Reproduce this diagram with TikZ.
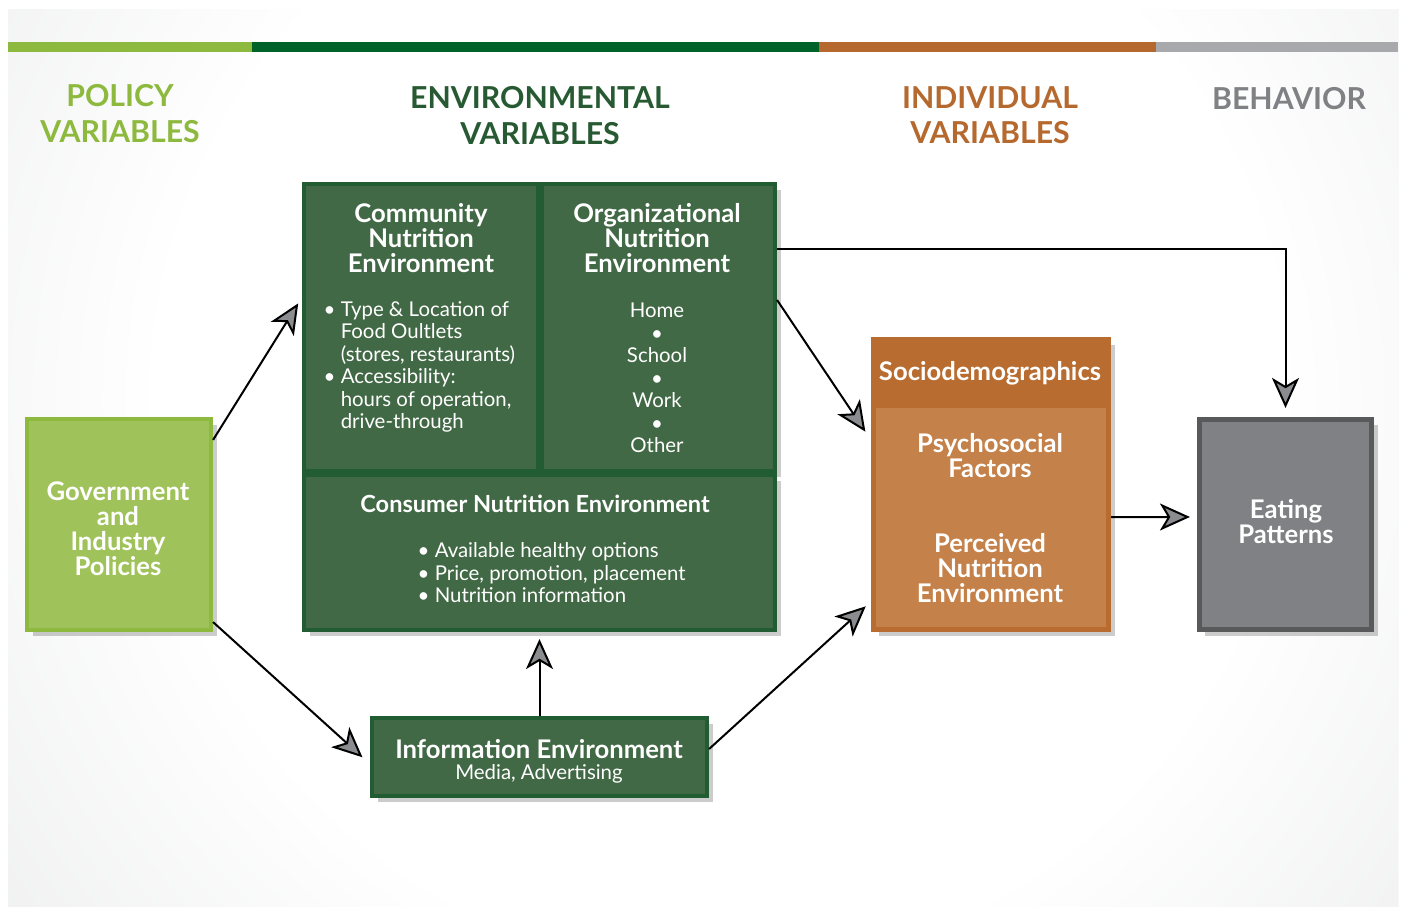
\documentclass[tikz,border=0pt]{standalone}
\usepackage{fontspec}
\setmainfont{Lato}
\usetikzlibrary{arrows.meta,shadows}

\definecolor{policygreen}{HTML}{8DB93F}
\definecolor{govfill}{HTML}{A0C25A}
\definecolor{envbar}{HTML}{006129}
\definecolor{envtext}{HTML}{275A32}
\definecolor{envfill}{HTML}{426946}
\definecolor{envline}{HTML}{225C32}
\definecolor{indbar}{HTML}{B5692F}
\definecolor{sociofill}{HTML}{B86C30}
\definecolor{psychfill}{HTML}{C48149}
\definecolor{behbar}{HTML}{A7A9AC}
\definecolor{behtext}{HTML}{808184}
\definecolor{eatline}{HTML}{58595B}
\definecolor{bggray}{HTML}{E4E5E6}
\definecolor{tipgray}{HTML}{8A8C8F}

\pgfdeclareradialshading{bgshade}{\pgfpoint{0bp}{0bp}}{color(0bp)=(white); color(14bp)=(white); color(29bp)=(bggray); color(50bp)=(bggray)}

\begin{document}
\begin{tikzpicture}[x=0.01cm,y=-0.01cm,
  heading/.style={font=\fontsize{8.6}{10}\selectfont\bfseries, align=center},
  boxtitle/.style={font=\fontsize{7.3}{7.1}\selectfont\bfseries, text=white, align=center, inner sep=0pt},
  boxtext/.style={font=\fontsize{5.8}{6.4}\selectfont, text=white, inner sep=0pt},
  shade/.style={drop shadow={shadow xshift=0.06cm, shadow yshift=-0.06cm, opacity=0.2, fill=black}},
  envbox/.style={draw=envline, fill=envfill, line width=0.04cm, inner sep=0pt},
  arr/.style={line width=0.02cm, shorten >=0.07cm, -{Stealth[length=0.3cm,width=0.27cm,inset=0.08cm,fill=tipgray]}}]
\useasboundingbox (0,0) rectangle (1403,907);
\fill[white] (0,0) rectangle (1403,907);
\begin{scope}
\clip (8,10) rectangle (1398,906);
\shade[shading=bgshade] (720,400) circle [radius=10cm];
\end{scope}

% column bars
\fill[policygreen] (8,42) rectangle (252,52);
\fill[envbar] (252,42) rectangle (819,52);
\fill[indbar] (819,42) rectangle (1156,52);
\fill[behbar] (1156,42) rectangle (1398,52);

\node (hpolicy) at (120,113.5) [heading, text=policygreen] {POLICY\\VARIABLES};
\node (henv) at (540,115.5) [heading, text=envtext] {ENVIRONMENTAL\\VARIABLES};
\node (hind) at (990,115.5) [heading, text=indbar] {INDIVIDUAL\\VARIABLES};
\node (hbeh) at (1289,99) [heading, text=behtext] {BEHAVIOR};

% policy
\node (gov) at (119,524.5) [shade, draw=policygreen, fill=govfill, line width=0.04cm,
  minimum width=1.84cm, minimum height=2.11cm] {};
\node (govtitle) at (118,528.5) [boxtitle] {Government\\and\\Industry\\Policies};

% environment
\node (commbox) at (421,327.5) [envbox, shade, minimum width=2.34cm, minimum height=2.87cm] {};
\node (orgbox) at (658.5,327.5) [envbox, shade, minimum width=2.33cm, minimum height=2.87cm] {};
\node (consbox) at (539.5,552.5) [envbox, shade, minimum width=4.71cm, minimum height=1.55cm] {};
\node (infobox) at (539.5,757) [envbox, shade, minimum width=3.35cm, minimum height=0.78cm] {};
\node (infotitle) at (539,749) [boxtitle] {Information Environment};
\node (infosub) at (539,774) [boxtext] {Media, Advertising};

\node (commtitle) at (421,238) [boxtitle] {Community\\Nutrition\\Environment};
\node (commlist) at (323,367) [boxtext, anchor=west, align=left]
  {\textbullet\ Type \& Location of\\\hphantom{\textbullet\ }Food Oultlets\\\hphantom{\textbullet\ }(stores, restaurants)\\
   \textbullet\ Accessibility:\\\hphantom{\textbullet\ }hours of operation,\\\hphantom{\textbullet\ }drive-through};
\node (orgtitle) at (657,238) [boxtitle] {Organizational\\Nutrition\\Environment};
\node (orglist) at (657,378) [boxtext, align=center]
  {Home\\\textbullet\\School\\\textbullet\\Work\\\textbullet\\Other};
\node (constitle) at (535,504) [boxtitle, font=\fontsize{6.7}{7.1}\selectfont\bfseries] {Consumer Nutrition Environment};
\node (conslist) at (417,573) [boxtext, anchor=west, align=left]
  {\textbullet\ Available healthy options\\\textbullet\ Price, promotion, placement\\\textbullet\ Nutrition information};

% individual
\node (socio) at (991,484.5) [shade, draw=sociofill, fill=sociofill, line width=0.04cm,
  minimum width=2.36cm, minimum height=2.91cm] {};
\node (psych) at (991,517.5) [fill=psychfill, minimum width=2.30cm, minimum height=2.19cm] {};
\node (sociotitle) at (990,373) [boxtitle] {Sociodemographics};
\node (psychtitle) at (990,455.5) [boxtitle] {Psychosocial\\Factors};
\node (perctitle) at (990,568) [boxtitle] {Perceived\\Nutrition\\Environment};

% behavior
\node (eating) at (1285.5,524.5) [shade, draw=eatline, fill=behtext, line width=0.05cm,
  minimum width=1.72cm, minimum height=2.10cm] {};
\node (eatingtitle) at (1286,521.5) [boxtitle] {Eating\\Patterns};

\draw [arr] ([yshift=-0.23cm]gov.north east) -- ([yshift=0.3cm]commbox.west);
\draw [arr, shorten >=0.1cm] ([yshift=0.1cm]gov.south east) -- ([yshift=-0.07cm]infobox.west);
\draw [arr] (infobox.north) -- (consbox.south);
\draw [arr] ([yshift=0.08cm]infobox.east) -- ([yshift=-1.17cm]socio.west);
\draw [arr, shorten >=0.1cm] ([yshift=0.275cm]orgbox.east) -- ([yshift=0.445cm]socio.west);
\draw [arr, shorten >=0.09cm] ([yshift=0.785cm]orgbox.east) -| (eating.north);
\draw [arr] ([yshift=-0.325cm]socio.east) -- ([yshift=0.075cm]eating.west);
\end{tikzpicture}
\end{document}
